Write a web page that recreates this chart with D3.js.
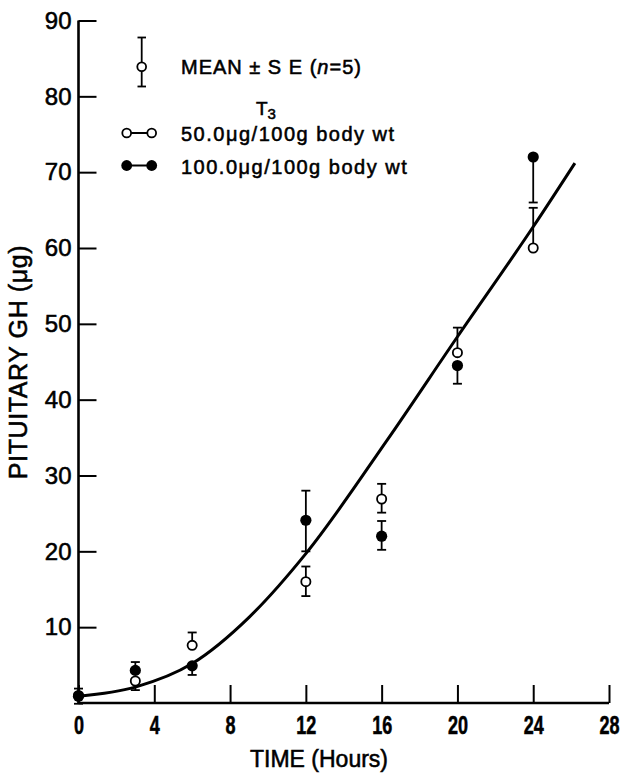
<!DOCTYPE html>
<html>
<head>
<meta charset="utf-8">
<script src="https://cdn.jsdelivr.net/npm/d3@7"></script>
<style>
  html, body { margin: 0; padding: 0; background: #fff; }
  svg { display: block; }
  text { fill: #000; font-family: "Liberation Sans", Arial, sans-serif; stroke: #000; stroke-width: 0.55px; }
</style>
</head>
<body>
<script>
// ---- data ----
const hours = [0, 3, 6, 12, 16, 20, 24];

// T3 50.0 ug/100g body wt (open circles)
const openMean   = [1.0, 2.9, 7.6, 16.0, 26.9, 46.2, 60.0];
const openSEup   = [0.0, 0.0, 1.7, 2.0, 2.0, 3.3, 5.3];
const openSEdown = [0.0, 1.2, 0.0, 1.9, 1.8, 0.0, 0.0];

// T3 100.0 ug/100g body wt (filled circles)
const fillMean   = [0.9, 4.3, 4.9, 24.1, 22.0, 44.5, 72.0];
const fillSEup   = [1.0, 1.1, 0.0, 3.9, 2.0, 0.0, 0.0];
const fillSEdown = [1.0, 0.0, 1.2, 4.1, 1.8, 2.4, 6.0];

// fitted curve
const curveT = [0, 3, 6, 9, 12, 16.3, 20, 24, 26.2];
const curveV = [0.9, 2.1, 5.2, 11.3, 19.7, 34.7, 48.3, 62.8, 71.2];

const xTicks = [0, 4, 8, 12, 16, 20, 24, 28];
const yTicks = [10, 20, 30, 40, 50, 60, 70, 80, 90];

const legendLabels = ["50.0", "100.0"];

// ---- drawing ----
const W = 623, H = 773;
const svg = d3.select("body").append("svg").attr("width", W).attr("height", H);

const x = d3.scaleLinear().domain([0, 28]).range([78.5, 609]);
const y = d3.scaleLinear().domain([0, 90]).range([703, 20.5]);

// y axis
const yAxis = d3.axisLeft(y).tickValues(yTicks).tickSizeInner(-18).tickSizeOuter(0).tickPadding(7);
const gy = svg.append("g").attr("transform", `translate(${x(0)},0)`).call(yAxis);
gy.select(".domain").attr("stroke", "#000").attr("stroke-width", 2.6).attr("d", `M0,${y(90)}V${y(0)}`);
gy.selectAll(".tick line").attr("stroke", "#000").attr("stroke-width", 2);
gy.selectAll(".tick text").attr("font-size", 24).attr("font-family", "Liberation Sans, Arial, sans-serif")
  .attr("fill", "#000").attr("stroke", "#000").attr("stroke-width", 0.7);

// x axis
const xAxis = d3.axisBottom(x).tickValues(xTicks).tickSizeInner(-18).tickSizeOuter(0).tickPadding(13);
const gx = svg.append("g").attr("transform", `translate(0,${y(0)})`).call(xAxis);
gx.select(".domain").attr("stroke", "#000").attr("stroke-width", 2.6).attr("d", `M${x(0)},0H${x(28)}`);
gx.selectAll(".tick line").attr("stroke", "#000").attr("stroke-width", 2);
gx.selectAll(".tick text").attr("font-size", 25).attr("font-family", "Liberation Sans, Arial, sans-serif")
  .attr("font-weight", "bold").attr("transform", "scale(0.72,1)")
  .attr("fill", "#000").attr("stroke", "none");

// axis titles
svg.append("text")
  .attr("transform", `translate(27,362) rotate(-90)`)
  .attr("text-anchor", "middle")
  .attr("font-size", 25)
  .attr("letter-spacing", 0.6)
  .text("PITUITARY GH (μg)");

svg.append("text")
  .attr("x", 319).attr("y", 767)
  .attr("text-anchor", "middle")
  .attr("font-size", 23)
  .text("TIME (Hours)");

// fitted curve
const line = d3.line().x(d => x(d[0])).y(d => y(d[1])).curve(d3.curveMonotoneX);
svg.append("path")
  .datum(curveT.map((t, i) => [t, curveV[i]]))
  .attr("d", line)
  .attr("fill", "none")
  .attr("stroke", "#000")
  .attr("stroke-width", 3);

// error bars
function errBars(mean, up, down) {
  const g = svg.append("g").attr("stroke", "#000").attr("stroke-width", 1.8);
  hours.forEach((t, i) => {
    const cx = x(t);
    if (up[i] > 0) {
      g.append("line").attr("x1", cx).attr("x2", cx).attr("y1", y(mean[i])).attr("y2", y(mean[i] + up[i]));
      g.append("line").attr("x1", cx - 4.5).attr("x2", cx + 4.5).attr("y1", y(mean[i] + up[i])).attr("y2", y(mean[i] + up[i]));
    }
    if (down[i] > 0) {
      g.append("line").attr("x1", cx).attr("x2", cx).attr("y1", y(mean[i])).attr("y2", y(mean[i] - down[i]));
      g.append("line").attr("x1", cx - 4.5).attr("x2", cx + 4.5).attr("y1", y(mean[i] - down[i])).attr("y2", y(mean[i] - down[i]));
    }
  });
}
errBars(openMean, openSEup, openSEdown);
errBars(fillMean, fillSEup, fillSEdown);

// points
svg.append("g").selectAll("circle").data(hours).join("circle")
  .attr("cx", d => x(d)).attr("cy", (d, i) => y(openMean[i]))
  .attr("r", 4.6).attr("fill", "#fff").attr("stroke", "#000").attr("stroke-width", 1.8);
svg.append("g").selectAll("circle").data(hours).join("circle")
  .attr("cx", d => x(d)).attr("cy", (d, i) => y(fillMean[i]))
  .attr("r", 5.6).attr("fill", "#000");

// legend
const lg = svg.append("g");
// mean +- SE symbol
lg.append("line").attr("x1", 141.7).attr("x2", 141.7).attr("y1", 37.5).attr("y2", 86.5).attr("stroke", "#000").attr("stroke-width", 1.8);
lg.append("line").attr("x1", 137.5).attr("x2", 146).attr("y1", 37.5).attr("y2", 37.5).attr("stroke", "#000").attr("stroke-width", 1.8);
lg.append("line").attr("x1", 137.5).attr("x2", 146).attr("y1", 86.5).attr("y2", 86.5).attr("stroke", "#000").attr("stroke-width", 1.8);
lg.append("circle").attr("cx", 141.7).attr("cy", 66.7).attr("r", 4.4).attr("fill", "#fff").attr("stroke", "#000").attr("stroke-width", 1.8);

const t1 = lg.append("text").attr("x", 181).attr("y", 73.5).attr("font-size", 20).attr("letter-spacing", 1);
t1.append("tspan").text("MEAN ± S E (");
t1.append("tspan").attr("font-style", "italic").text("n");
t1.append("tspan").text("=5)");

const t3 = lg.append("text").attr("x", 256).attr("y", 115).attr("font-size", 19);
t3.append("tspan").text("T");
t3.append("tspan").attr("font-size", 15).attr("dy", 4).text("3");

const legY = [133, 165.5];
legY.forEach((ly, k) => {
  lg.append("line").attr("x1", 126.7).attr("x2", 151.7).attr("y1", ly).attr("y2", ly).attr("stroke", "#000").attr("stroke-width", 2);
  [126.7, 151.7].forEach(cx => {
    if (k === 0) {
      lg.append("circle").attr("cx", cx).attr("cy", ly).attr("r", 4.4).attr("fill", "#fff").attr("stroke", "#000").attr("stroke-width", 1.8);
    } else {
      lg.append("circle").attr("cx", cx).attr("cy", ly).attr("r", 5.4).attr("fill", "#000");
    }
  });
  const tx = lg.append("text").attr("x", 181).attr("y", ly + 8.3).attr("font-size", 20).attr("letter-spacing", 1.5);
  tx.append("tspan").text(legendLabels[k] + "μg/100g body wt");
});
</script>
</body>
</html>
